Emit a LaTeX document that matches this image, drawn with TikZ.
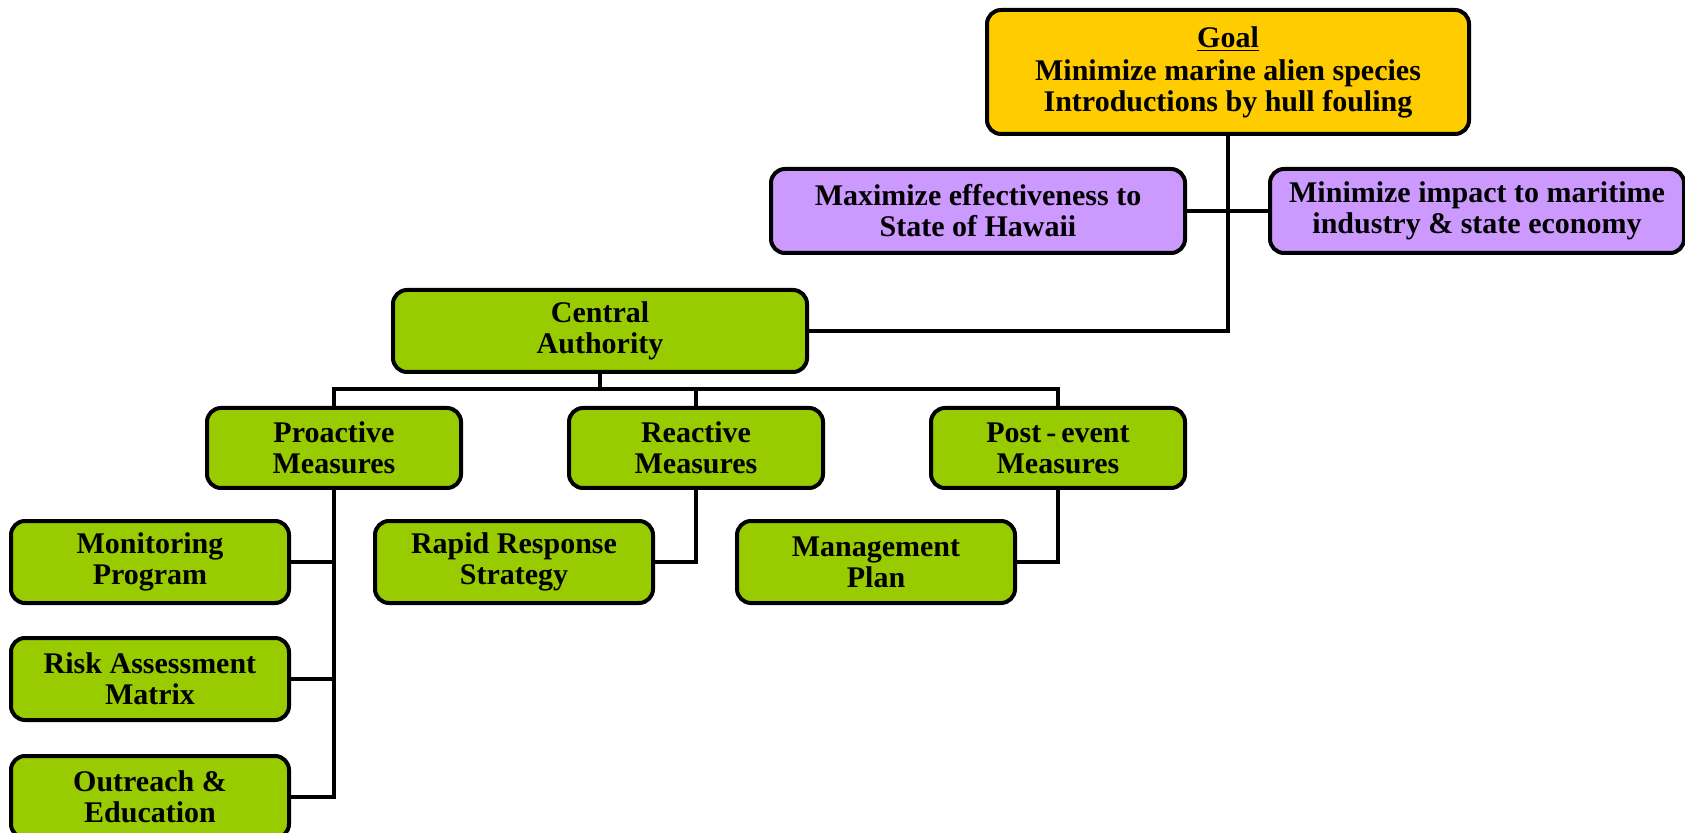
\documentclass[tikz,border=0pt]{standalone}
\usepackage{fontspec}
\setmainfont{Liberation Serif}
\definecolor{goalyellow}{HTML}{FFCC00}
\definecolor{aimpurple}{HTML}{CC99FF}
\definecolor{stepgreen}{HTML}{99CC00}
\begin{document}
\begin{tikzpicture}[x=0.5pt,y=-0.5pt,
    box/.style={draw=black,line width=2pt,rounded corners=7pt,align=center,
      font=\fontsize{15}{15.5}\selectfont\bfseries,inner sep=0pt},
    goalbox/.style={box,fill=goalyellow,minimum width=241pt,minimum height=62pt},
    aimbox/.style={box,fill=aimpurple,minimum width=207pt,minimum height=42pt},
    topbox/.style={box,fill=stepgreen,minimum width=207pt,minimum height=41pt},
    midbox/.style={box,fill=stepgreen,minimum width=127pt,minimum height=40pt},
    lowbox/.style={box,fill=stepgreen,minimum width=139pt,minimum height=41pt},
    link/.style={line width=1.6pt}]
  \useasboundingbox (0,0) rectangle (1685,833);
  \draw
    (1228,72) node[goalbox] (goal){\underline{Goal}\\[1pt]Minimize marine alien species\\Introductions by hull fouling}
    (978,211) node[aimbox] (effect){Maximize effectiveness to\\State of Hawaii}
    (1477,211) node[aimbox] (impact){Minimize impact to maritime\\industry \& state economy}
    (600,331) node[topbox] (central){Central\\Authority}
    (334,448) node[midbox] (proactive){Proactive\\Measures}
    (696,448) node[midbox] (reactive){Reactive\\Measures}
    (1058,448) node[midbox] (postevent){Post\,-\,event\\Measures}
    (150,562) node[lowbox] (monitor){Monitoring\\Program}
    (150,679) node[lowbox] (risk){Risk Assessment\\Matrix}
    (150,797) node[lowbox] (outreach){Outreach \&\\Education}
    (514,562) node[lowbox] (rapid){Rapid Response\\Strategy}
    (876,562) node[lowbox] (plan){Management\\Plan};
  \coordinate (bus) at (600,389);
  \begin{scope}[link]
    \draw (goal.south) |- (central.east);
    \draw (effect.east) to (impact.west);
    \draw (central.south) to (bus);
    \draw (proactive.north) |- (bus) -| (postevent.north);
    \draw (reactive.north) to (reactive.north |- bus);
    \draw (proactive.south) |- (outreach.east);
    \draw (monitor.east) to (monitor.east -| proactive.south);
    \draw (risk.east) to (risk.east -| proactive.south);
    \draw (reactive.south) |- (rapid.east);
    \draw (postevent.south) |- (plan.east);
  \end{scope}
\end{tikzpicture}
\end{document}
